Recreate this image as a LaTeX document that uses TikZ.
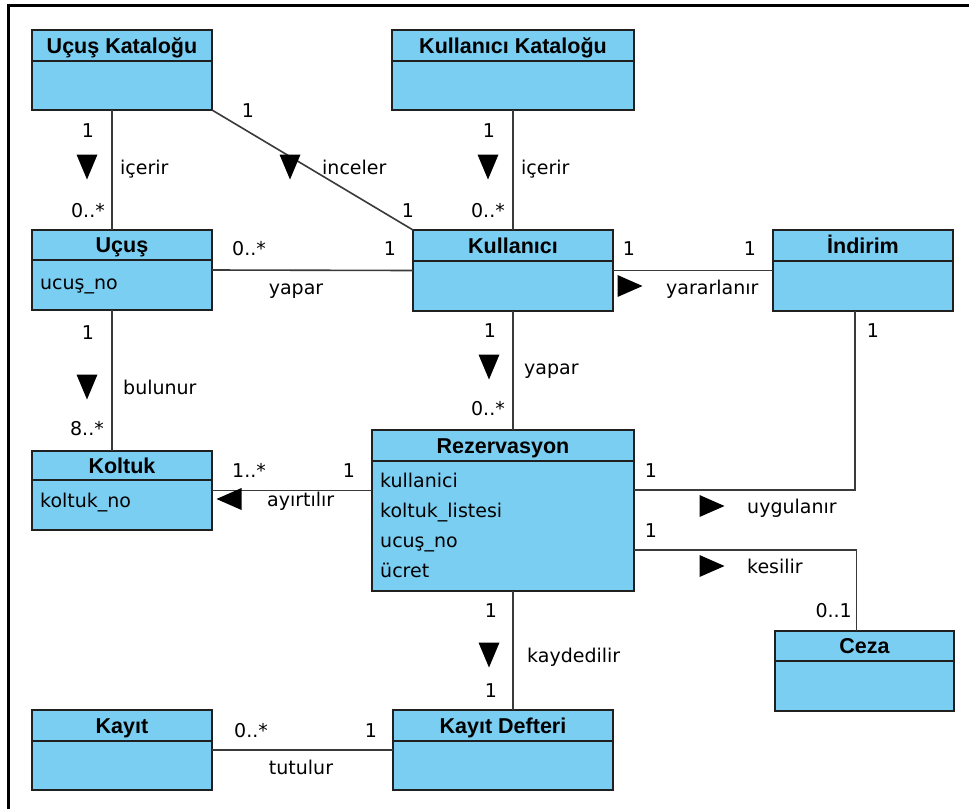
\documentclass[tikz,border=0pt]{standalone}
\usepackage{fontspec}
\newfontfamily\titlefont{Liberation Sans}
\newfontfamily\labelfont{DejaVu Sans}
\usetikzlibrary{calc}
\definecolor{classfill}{RGB}{122,206,242}
\definecolor{edgegray}{RGB}{58,58,58}
\definecolor{borderdark}{RGB}{32,32,32}

% class box: name, left, top, width, height, header height, title
\newcommand\umlclass[7]{%
  \node[classbox, minimum width=#4pt, minimum height=#5pt] (#1) at (#2+#4/2, #3+#5/2) {};
  \draw[classline] ($(#1.north west)+(0,#6)$) -- ($(#1.north east)+(0,#6)$);
  \node[titletext] (#1-title) at ($(#1.north)+(0,#6/2)$) {#7};
}

\begin{document}
\begin{tikzpicture}[x=1pt, y=-1pt,
  classbox/.style={draw=borderdark, line width=2pt, fill=classfill, inner sep=0pt, outer sep=0pt},
  classline/.style={draw=borderdark, line width=2pt},
  titletext/.style={font=\titlefont\bfseries\fontsize{21.5}{24}\selectfont, inner sep=0pt, text height=15pt, text depth=0pt},
  attrtext/.style={font=\labelfont\fontsize{19}{22}\selectfont, inner sep=0pt, text height=14pt, text depth=0pt, anchor=west},
  lbl/.style={font=\labelfont\fontsize{19}{22}\selectfont, inner sep=0pt, text height=14pt, text depth=0pt},
  assoc/.style={draw=edgegray, line width=1.6pt},
  frameline/.style={draw=black, line width=3pt},
  tridown/.pic={\fill[black] (-10.5,-12.5) -- (10.5,-12.5) -- (0,12.5) -- cycle;},
  triright/.pic={\fill[black] (-12.5,-11) -- (-12.5,11) -- (12.5,0) -- cycle;},
  trileft/.pic={\fill[black] (12.5,-11) -- (12.5,11) -- (-12.5,0) -- cycle;}
]
\useasboundingbox (0,0) rectangle (969,809);
\fill[white] (0,0) rectangle (969,809);

% outer frame
\coordinate (frametop) at (969,5);
\coordinate (framecorner) at (8.5,5);
\coordinate (framebottom) at (8.5,809);
\draw[frameline] (frametop) -- (framecorner) -- (framebottom);

% classes
\umlclass{uk}{32}{30}{180}{80}{31}{Uçuş Kataloğu}
\umlclass{kk}{392}{30}{242}{80}{31}{Kullanıcı Kataloğu}
\umlclass{ucus}{32}{230}{180}{80}{30}{Uçuş}
\umlclass{kul}{413}{230}{200}{81}{31}{Kullanıcı}
\umlclass{ind}{773}{230}{180}{81}{31}{İndirim}
\umlclass{kol}{32}{451}{180}{79}{29}{Koltuk}
\umlclass{rez}{372}{430}{262}{161}{31}{Rezervasyon}
\umlclass{ceza}{775}{631}{179}{80}{30}{Ceza}
\umlclass{kayit}{32}{710}{180}{80}{31}{Kayıt}
\umlclass{kd}{393}{710}{220}{80}{31}{Kayıt Defteri}

% attributes
\node[attrtext] (ucus-a1) at (40,282) {ucuş\_no};
\node[attrtext] (kol-a1) at (40,500) {koltuk\_no};
\node[attrtext] (rez-a1) at (380,480) {kullanici};
\node[attrtext] (rez-a2) at (380,510) {koltuk\_listesi};
\node[attrtext] (rez-a3) at (380,540) {ucuş\_no};
\node[attrtext] (rez-a4) at (380,570) {ücret};

% associations
\draw[assoc] ([xshift=-10pt]uk.south) -- ([xshift=-10pt]ucus.north);
\draw[assoc] (uk.south east) -- (kul.north west);
\draw[assoc] (kk.south) -- (kul.north);
\draw[assoc] (ucus.east) -- (kul.west);
\draw[assoc] (kul.east) -- (ind.west);
\draw[assoc] ([xshift=-10pt]ucus.south) -- ([xshift=-10pt]kol.north);
\draw[assoc] (kul.south) -- (kul.south |- rez.north);
\draw[assoc] ([xshift=-8pt]ind.south) |- ([yshift=20.5pt]rez.east);
\draw[assoc] ([yshift=-39.5pt]rez.east) -| ([xshift=-8pt]ceza.north);
\draw[assoc] (kol.east) -- (kol.east -| rez.west);
\draw[assoc] (rez.south -| kul.south) -- (kd.north -| kul.south);
\draw[assoc] (kayit.east) -- (kd.west);

% Uçuş Kataloğu -- Uçuş
\node[lbl] (m1) at (88,130) {1};
\pic at (87,167) {tridown};
\node[lbl, anchor=west] (n1) at (120,167) {içerir};
\node[lbl, anchor=east] (m2) at (105,210) {0..*};

% Uçuş Kataloğu -- Kullanıcı
\node[lbl] (m3) at (248,110) {1};
\pic at (290,167) {tridown};
\node[lbl, anchor=west] (n2) at (322,167) {inceler};
\node[lbl] (m4) at (408,210) {1};

% Kullanıcı Kataloğu -- Kullanıcı
\node[lbl] (m5) at (489,130) {1};
\pic at (488,167) {tridown};
\node[lbl, anchor=west] (n3) at (521,167) {içerir};
\node[lbl, anchor=east] (m6) at (505,210) {0..*};

% Uçuş -- Kullanıcı
\node[lbl, anchor=west] (m7) at (232,248) {0..*};
\node[lbl] (m8) at (390,248) {1};
\node[lbl] (n4) at (296,287) {yapar};

% Kullanıcı -- İndirim
\node[lbl] (m9) at (629,248) {1};
\node[lbl] (m10) at (750,248) {1};
\pic at (630,286) {triright};
\node[lbl, anchor=west] (n5) at (666,287) {yararlanır};

% Uçuş -- Koltuk
\node[lbl] (m11) at (88,332) {1};
\pic at (87,387) {tridown};
\node[lbl, anchor=west] (n6) at (123,387) {bulunur};
\node[lbl, anchor=east] (m12) at (104,428) {8..*};

% Kullanıcı -- Rezervasyon
\node[lbl] (m13) at (490,330) {1};
\pic at (489,367) {tridown};
\node[lbl, anchor=west] (n7) at (524,367) {yapar};
\node[lbl, anchor=east] (m14) at (505,408) {0..*};

% İndirim -- Rezervasyon
\node[lbl] (m15) at (873,330) {1};
\node[lbl] (m16) at (651,470) {1};
\pic at (712,506) {triright};
\node[lbl, anchor=west] (n8) at (747,506) {uygulanır};

% Rezervasyon -- Ceza
\node[lbl] (m17) at (651,530) {1};
\pic at (712,566) {triright};
\node[lbl, anchor=west] (n9) at (747,566) {kesilir};
\node[lbl, anchor=east] (m18) at (852,610) {0..1};

% Koltuk -- Rezervasyon
\node[lbl, anchor=west] (m19) at (232,470) {1..*};
\node[lbl] (m20) at (349,470) {1};
\pic at (229,499) {trileft};
\node[lbl, anchor=west] (n10) at (267,499) {ayırtılır};

% Rezervasyon -- Kayıt Defteri
\node[lbl] (m21) at (491,610) {1};
\pic at (489,655) {tridown};
\node[lbl, anchor=west] (n11) at (527,655) {kaydedilir};
\node[lbl] (m22) at (491,690) {1};

% Kayıt -- Kayıt Defteri
\node[lbl, anchor=west] (m23) at (234,730) {0..*};
\node[lbl] (m24) at (371,730) {1};
\node[lbl] (n12) at (301,767) {tutulur};
\end{tikzpicture}
\end{document}
